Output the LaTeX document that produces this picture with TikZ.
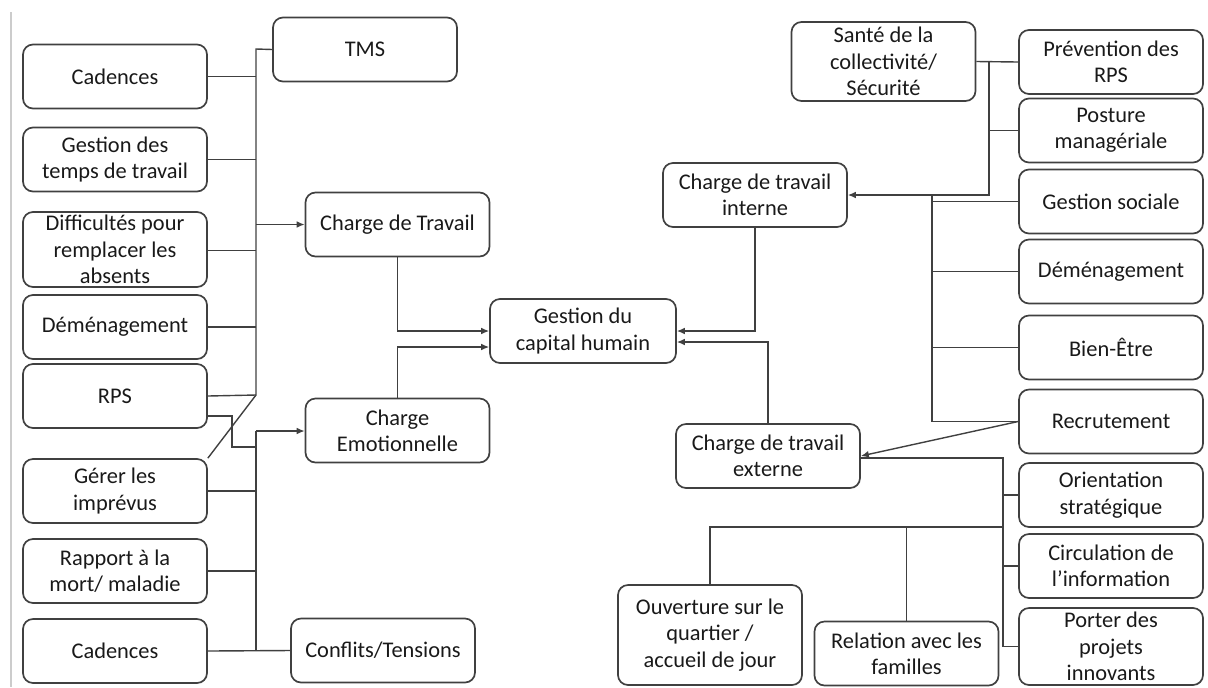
\documentclass[tikz,border=0pt]{standalone}
\usepackage{fontspec}
\setmainfont{Carlito}
\usetikzlibrary{arrows.meta}
\tikzset{
  boite/.style={draw=black!75, line width=0.85pt, rounded corners=5pt, align=center,
    inner sep=1pt, minimum width=92pt, minimum height=32pt,
    font=\fontsize{11.2}{13.2}\selectfont, text=black!90},
  lien/.style={draw=black!75, line width=0.7pt},
  fleche/.style={lien, -{Latex[length=4pt,width=3.4pt]}},
}
\begin{document}
\begin{tikzpicture}[x=0.5pt, y=-0.5pt]
    \useasboundingbox (0,0) rectangle (1208,687);
    % bord gauche
    \draw[black!20, line width=0.8pt] (11,12) -- (11,687);

    % colonne gauche
    \node[boite] (cad1) at (115,76.5) {Cadences};
    \node[boite] (gtt) at (115,159.5) {Gestion des\\temps de travail};
    \node[boite, minimum height=37.5pt] (diff) at (115,249.5) {Difficultés pour\\remplacer les\\absents};
    \node[boite] (dem1) at (115,327) {Déménagement};
    \node[boite] (rps) at (115,396) {RPS};
    \node[boite] (ger) at (115,491) {Gérer les\\imprévus};
    \node[boite] (rap) at (115,571) {Rapport à la\\mort/ maladie};
    \node[boite] (cad2) at (115,651) {Cadences};

    % charges a gauche
    \node[boite] (tms) at (365,49.5) {TMS};
    \node[boite] (ctr) at (397.5,224.5) {Charge de Travail};
    \node[boite] (cemo) at (397.5,430.5) {Charge\\Emotionnelle};
    \node[boite] (conf) at (383,650.5) {Conflits/Tensions};

    % centre
    \node[boite, minimum width=93pt] (gch) at (583,331) {Gestion du\\capital humain};

    % colonne droite
    \node[boite, minimum height=39.5pt] (sante) at (883.5,61.5) {Santé de la\\collectivité/\\Sécurité};
    \node[boite] (prev) at (1111,62) {Prévention des\\RPS};
    \node[boite] (post) at (1111,130.5) {Posture\\managériale};
    \node[boite] (gsoc) at (1111,201.5) {Gestion sociale};
    \node[boite] (dem2) at (1111,271.5) {Déménagement};
    \node[boite] (bien) at (1111,347.5) {Bien-Être};
    \node[boite] (recr) at (1111,421.5) {Recrutement};
    \node[boite] (orie) at (1111,495) {Orientation\\stratégique};
    \node[boite] (circ) at (1111,566) {Circulation de\\l’information};
    \node[boite, minimum height=38.5pt] (port) at (1111,646.5) {Porter des\\projets\\innovants};

    % charges a droite
    \node[boite] (cint) at (755,195) {Charge de travail\\interne};
    \node[boite] (cext) at (768,456) {Charge de travail\\externe};
    \node[boite, minimum height=50pt] (ouv) at (710,635) {Ouverture sur le\\quartier /\\accueil de jour};
    \node[boite] (rel) at (906.5,653.5) {Relation avec les\\familles};

    % points de jonction
    \coordinate (bA) at (256,49);
    \coordinate (bB) at (256,395);
    \coordinate (bC) at (256,431);
    \coordinate (bD) at (256,651);
    \coordinate (rpsK) at (232,447);
    \coordinate (bE) at (989,62);
    \coordinate (bG) at (932,195);
    \coordinate (bH) at (1003,458);
    \coordinate (bJ) at (1003,527);

    % bus charge de travail
    \draw[lien] (tms.west) -- (bA) -- (bB) -- (ger.north east);
    \draw[lien] (cad1.east) -- (cad1.east -| bA);
    \draw[lien] (gtt.east) -- (gtt.east -| bA);
    \draw[lien] ([yshift=-0.5pt]diff.east) -- ([yshift=-0.5pt]diff.east -| bA);
    \draw[lien] (dem1.east) -- (dem1.east -| bA);
    \draw[lien] (rps.east) -- (bB);
    \draw[fleche] (bA |- ctr.west) -- (ctr.west);

    % bus charge emotionnelle
    \draw[lien] ([yshift=-10pt]rps.east) -| (rpsK) -- (rpsK -| bC);
    \draw[lien] (bC) -- (bD);
    \draw[fleche] (bC) -- (bC -| cemo.west);
    \draw[lien] (ger.east) -- (ger.east -| bC);
    \draw[lien] (rap.east) -- (rap.east -| bC);
    \draw[lien] (cad2.east) -- (conf.west);

    % vers le capital humain
    \draw[fleche] (ctr.south) |- (gch.west);
    \draw[fleche] (cemo.north) |- ([yshift=-8pt]gch.west);
    \draw[fleche] (cint.south) |- (gch.east);
    \draw[fleche] (cext.north) |- ([yshift=-5.5pt]gch.east);

    % bus charge interne
    \draw[lien] (sante.east) -- (prev.west);
    \draw[fleche] (bE) |- (cint.east);
    \draw[lien] (post.west) -- (post.west -| bE);
    \draw[lien] (bG) |- (recr.west);
    \draw[lien] (gsoc.west) -- (gsoc.west -| bG);
    \draw[lien] (dem2.west) -- (dem2.west -| bG);
    \draw[lien] (bien.west) -- (bien.west -| bG);

    % bus charge externe
    \draw[fleche] (recr.west) -- (cext.east);
    \draw[lien] ([yshift=-1pt]cext.east) -- (bH) |- (port.west);
    \draw[lien] (orie.west) -- (orie.west -| bH);
    \draw[lien] (circ.west) -- (circ.west -| bH);
    \draw[lien] (bJ) -| (ouv.north);
    \draw[lien] (rel.north) -- (rel.north |- bJ);
\end{tikzpicture}
\end{document}
